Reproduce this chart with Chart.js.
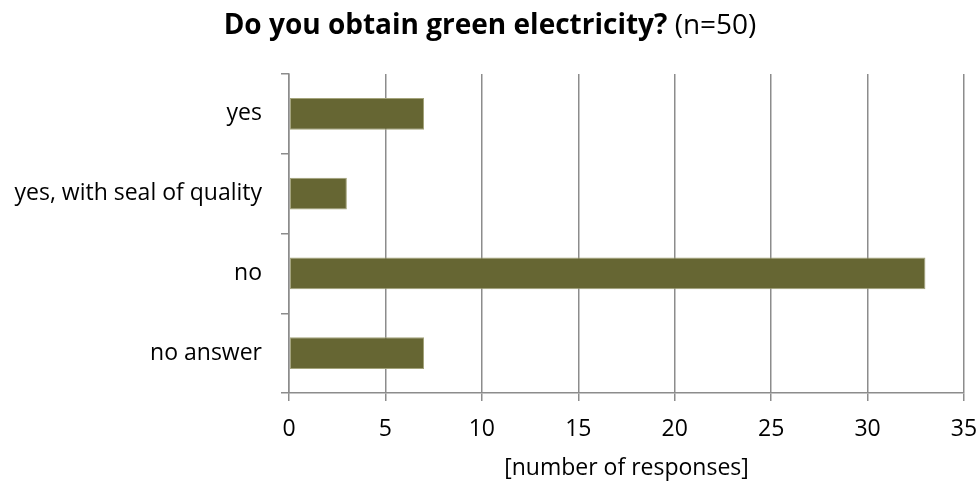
<!DOCTYPE html>
<html>
<head>
<meta charset="utf-8">
<script src="https://cdn.jsdelivr.net/npm/chart.js@4"></script>
<style>
  html, body { margin: 0; padding: 0; background: #fff; }
  #wrap { width: 980px; height: 483px; }
</style>
</head>
<body>
<div id="wrap"><canvas id="chart" width="980" height="483"></canvas></div>
<script>
const categories = ["yes", "yes, with seal of quality", "no", "no answer"];
const responses = [7, 3, 33, 7];
const xTicks = [0, 5, 10, 15, 20, 25, 30, 35];

const FONT = "'Open Sans', 'DejaVu Sans', sans-serif";

// title with a bold and a normal part
const titlePlugin = {
    id: "mixedTitle",
    afterDraw(chart) {
        const ctx = chart.ctx;
        const bold = "Do you obtain green electricity?";
        const normal = " (n=50)";
        ctx.save();
        ctx.textBaseline = "middle";
        ctx.fillStyle = "#000";
        ctx.font = "bold 28px " + FONT;
        const w1 = ctx.measureText(bold).width;
        ctx.font = "28px " + FONT;
        const w2 = ctx.measureText(normal).width;
        const x0 = (chart.width - w1 - w2) / 2;
        ctx.font = "bold 28px " + FONT;
        ctx.fillText(bold, x0, 26);
        ctx.font = "28px " + FONT;
        ctx.fillText(normal, x0 + w1, 26);
        ctx.restore();
    }
};

new Chart(document.getElementById("chart"), {
    type: "bar",
    data: {
        labels: categories,
        datasets: [{
            data: responses,
            backgroundColor: "#666633",
            borderColor: "#a3a37a",
            borderWidth: 1,
            borderSkipped: false,
            barPercentage: 0.4,
            categoryPercentage: 1
        }]
    },
    options: {
        indexAxis: "y",
        responsive: false,
        animation: false,
        layout: { padding: { top: 74, right: 16, left: 0, bottom: 0 } },
        plugins: { legend: { display: false }, tooltip: { enabled: false } },
        scales: {
            x: {
                min: 0, max: 35,
                afterBuildTicks: s => { s.ticks = xTicks.map(v => ({ value: v })); },
                afterFit: s => { s.height = 90; s.paddingRight = 0; s.paddingLeft = 0; },
                grid: { color: "#8c8c8c", lineWidth: 1.5, tickLength: 8 },
                border: { color: "#8c8c8c", width: 1.5 },
                ticks: { color: "#000", font: { family: FONT, size: 23 }, padding: 15 },
                title: {
                    display: true, text: "[number of responses]", color: "#000",
                    font: { family: FONT, size: 23 }, padding: { top: 4, bottom: 1 }
                }
            },
            y: {
                afterFit: s => { s.width = 289; },
                grid: { color: "#8c8c8c", lineWidth: 1.5, tickLength: 8, drawOnChartArea: false, offset: true },
                border: { color: "#8c8c8c", width: 1.5 },
                ticks: { color: "#000", font: { family: FONT, size: 23 }, padding: 19 }
            }
        }
    },
    plugins: [titlePlugin]
});
</script>
</body>
</html>
